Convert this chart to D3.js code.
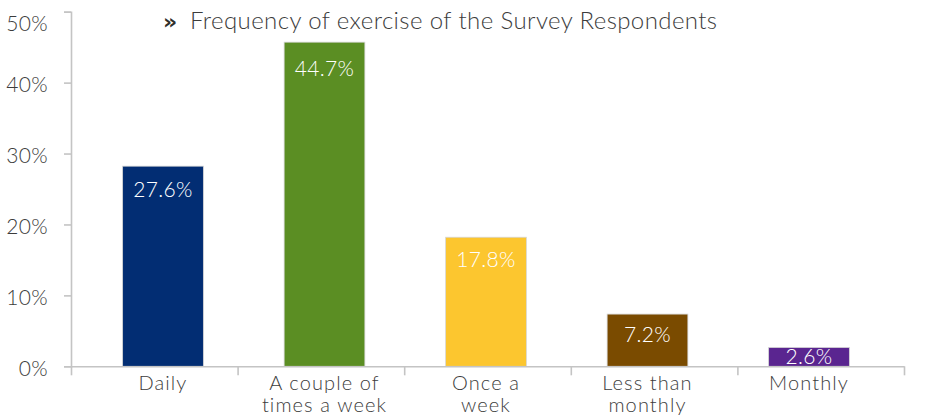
<!DOCTYPE html>
<html>
<head>
<meta charset="utf-8">
<script src="https://cdn.jsdelivr.net/npm/d3@7"></script>
<style>
  html, body { margin: 0; padding: 0; background: #ffffff; }
  svg { display: block; }
  text { font-family: "Century Gothic", "URW Gothic", Lato, "DejaVu Sans", sans-serif; font-weight: 300; }
</style>
</head>
<body>
<svg id="chart" width="925" height="416"></svg>
<script>
// ---- data ----
const categories = ["Daily", "A couple of\ntimes a week", "Once a\nweek", "Less than\nmonthly", "Monthly"];
const values = [27.6, 44.7, 17.8, 7.2, 2.6];
const barColors = ["#022d73", "#5b8e23", "#fcc62f", "#7a4b00", "#5a2590"];
const yTickValues = [0, 10, 20, 30, 40, 50];
const chartTitle = "Frequency of exercise of the Survey Respondents";

// ---- layout ----
const plot = { left: 71, right: 904, top: 11.7, bottom: 366.3 };
const axisColor = "#c4c4c4";
const textColor = "#3c3c3c";

const svg = d3.select("#chart");

// scales
const y = d3.scaleLinear().domain([0, 50]).range([plot.bottom, plot.top]);
// bars in the source image are drawn on a slightly stretched value scale
const yBar = d3.scaleLinear().domain([0, 48.9]).range([plot.bottom, plot.top]);
const xBar = d3.scaleBand().domain(categories).range([82.25, 889.75]).paddingInner(0.5).paddingOuter(0.25);
const xEdges = d3.scaleLinear().domain([0, categories.length]).range([plot.left, plot.right]);

// bars
svg.append("g").selectAll("rect")
  .data(values)
  .join("rect")
  .attr("x", (d, i) => xBar(categories[i]))
  .attr("width", xBar.bandwidth())
  .attr("y", d => yBar(d))
  .attr("height", d => plot.bottom - yBar(d))
  .attr("fill", (d, i) => barColors[i])
  .attr("stroke", "#d6d6d6")
  .attr("stroke-width", 0.8);

// data labels
svg.append("g").selectAll("text")
  .data(values)
  .join("text")
  .attr("x", (d, i) => xBar(categories[i]) + xBar.bandwidth() / 2)
  .attr("y", d => {
    const top = yBar(d);
    const mid = (top + plot.bottom) / 2;
    return Math.min(y(d) + 19, mid);
  })
  .attr("dy", "0.36em")
  .attr("text-anchor", "middle")
  .attr("fill", "#ffffff")
  .attr("font-size", 21)
  .attr("letter-spacing", 0.3)
  .text(d => d.toFixed(1) + "%");

// y axis
const yAxis = svg.append("g")
  .attr("transform", `translate(${plot.left},0)`)
  .call(d3.axisLeft(y).tickValues(yTickValues).tickFormat(d => d + "%").tickSize(7).tickSizeOuter(7).tickPadding(16));
yAxis.select(".domain").attr("stroke", axisColor).attr("stroke-width", 1.6);
yAxis.selectAll(".tick line").attr("stroke", axisColor).attr("stroke-width", 1.6);
yAxis.selectAll(".tick text")
  .attr("fill", textColor)
  .attr("font-size", 21)
  .attr("font-family", null)
  .attr("letter-spacing", 0.3)
  .attr("dy", "0.42em")
  .attr("y", d => Math.max(0, 22 - y(d)));

// x axis (ticks at category boundaries)
const xAxis = svg.append("g")
  .attr("transform", `translate(0,${plot.bottom})`)
  .call(d3.axisBottom(xEdges).tickValues(d3.range(categories.length + 1)).tickFormat("").tickSize(9).tickSizeOuter(0));
xAxis.select(".domain").attr("stroke", axisColor).attr("stroke-width", 1.6);
xAxis.selectAll(".tick line").attr("stroke", axisColor).attr("stroke-width", 1.6);

// category labels
const catG = svg.append("g");
categories.forEach((c, i) => {
  const cx = xBar(c) + xBar.bandwidth() / 2;
  c.split("\n").forEach((line, j) => {
    catG.append("text")
      .attr("x", cx)
      .attr("y", 390 + j * 22)
      .attr("text-anchor", "middle")
      .attr("fill", textColor)
      .attr("font-size", 20)
      .attr("letter-spacing", 1.1)
      .text(line);
  });
});

// title
svg.append("text")
  .attr("x", 163)
  .attr("y", 29)
  .attr("fill", "#2f2f2a")
  .attr("font-size", 22)
  .style("font-family", "'DejaVu Sans', sans-serif")
  .style("font-weight", "bold")
  .text("»");
svg.append("text")
  .attr("x", 190)
  .attr("y", 29)
  .attr("fill", textColor)
  .attr("font-size", 24)
  .attr("letter-spacing", 0.4)
  .text(chartTitle);
</script>
</body>
</html>
